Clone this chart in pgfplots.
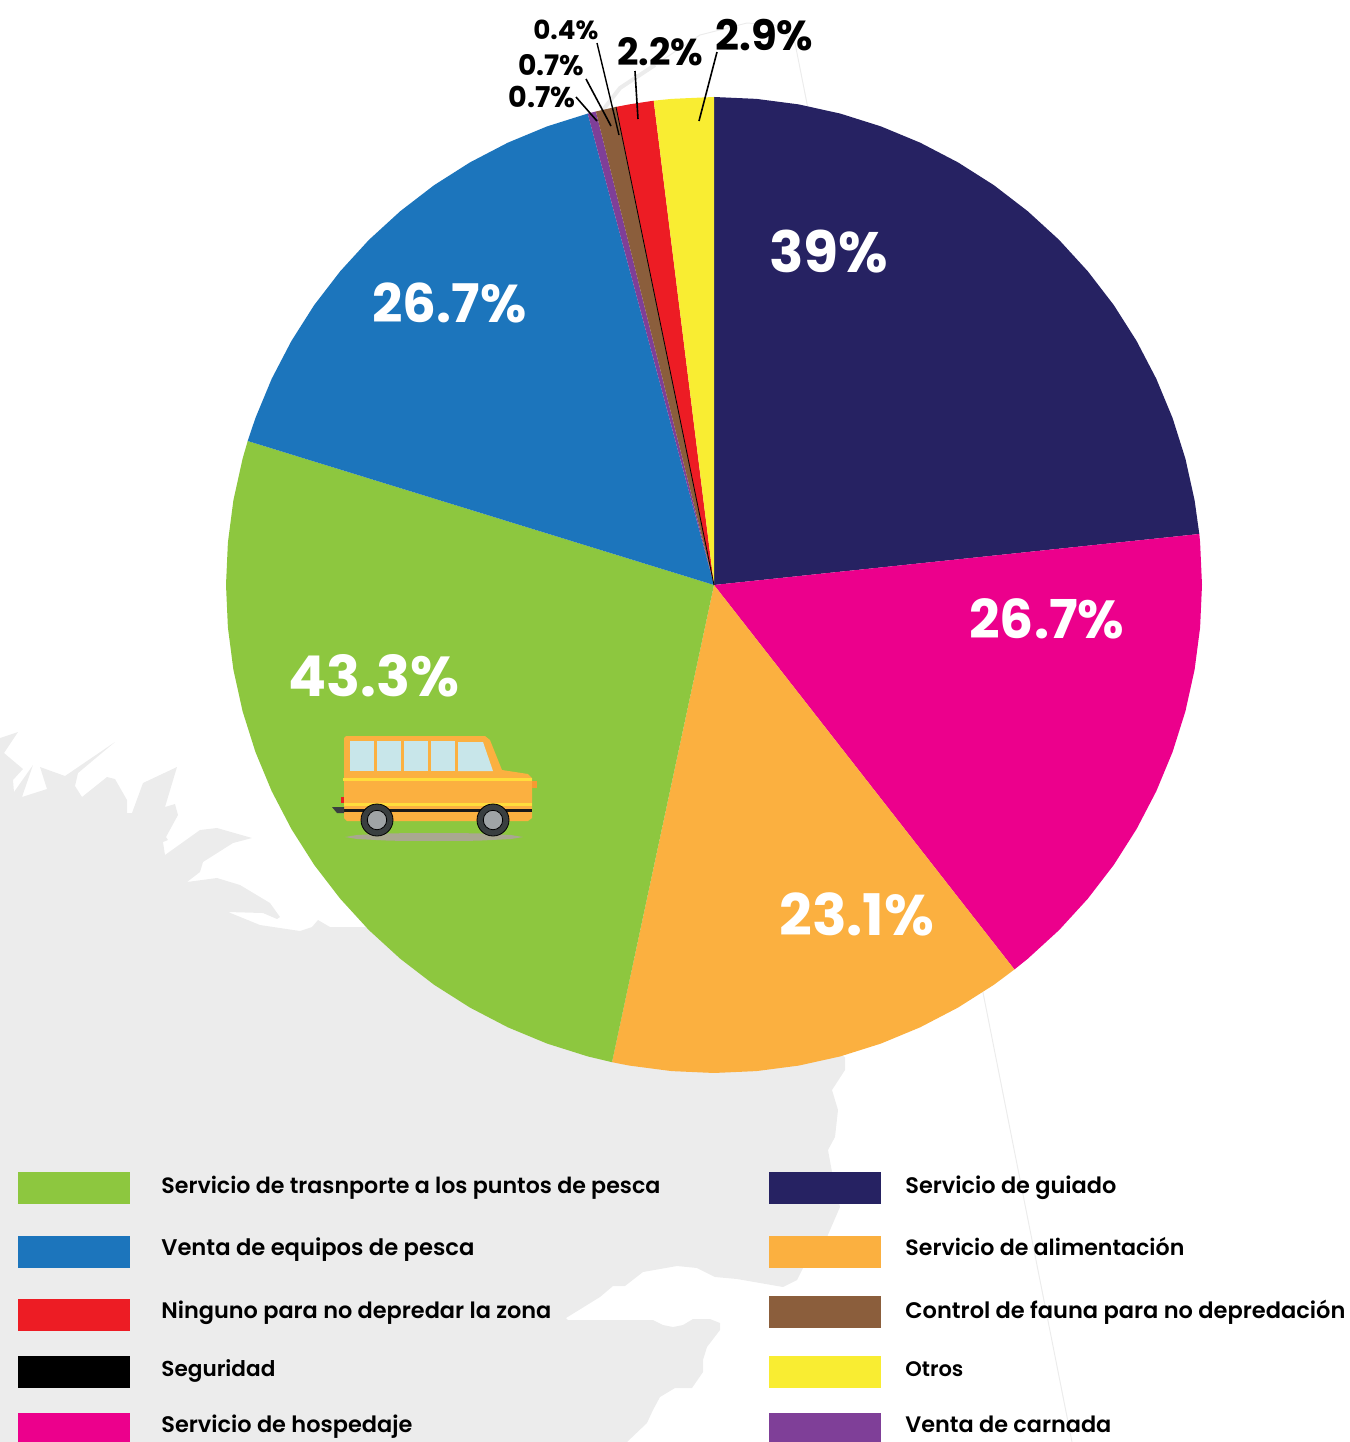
\documentclass[border=0pt]{standalone}
\usepackage{graphicx}
\usepackage{fontspec}
\usepackage{pgfplots}
\pgfplotsset{compat=1.18}
\setmainfont{Poppins}
\newfontfamily\lgfont{Poppins SemiBold}
\definecolor{cgreen}{HTML}{8DC73F}
\definecolor{cblue}{HTML}{1C75BC}
\definecolor{cnavy}{HTML}{262262}
\definecolor{cmag}{HTML}{EC008C}
\definecolor{corange}{HTML}{FBB040}
\definecolor{cred}{HTML}{ED1C24}
\definecolor{cbrown}{HTML}{8B5E3C}
\definecolor{cyellow}{HTML}{F9ED32}
\definecolor{cpurple}{HTML}{7F3F98}
\definecolor{bgland}{HTML}{ECECEC}
\definecolor{busglass}{HTML}{C8E6EA}
\definecolor{busstripe}{HTML}{FFDD3C}
\definecolor{busdark}{HTML}{3A3F40}
\definecolor{busshadow}{HTML}{A9A890}
\definecolor{bushub}{HTML}{A0A4A6}
\definecolor{busnub}{HTML}{F79A32}
\newcommand{\lab}[5]{\node[anchor=base west,inner sep=0pt,text=#5] at (axis cs:#1,#2) {\resizebox{\dimexpr #3pt/2\relax}{!}{\bfseries #4}};}
\newcommand{\lgd}[4]{\node[anchor=base west,inner sep=0pt,text=black] at (axis cs:#1,#2) {\resizebox{\dimexpr #3pt/2\relax}{!}{\lgfont #4}};}
\pgfplotsset{page/.style={scale only axis,width=675pt,height=721pt,hide axis,clip=false,xmin=0,xmax=1350,ymin=0,ymax=1442,y dir=reverse,at={(0,0)},anchor=south west}}
\begin{document}
\begin{tikzpicture}
\path[use as bounding box] (0,0) rectangle (675pt,721pt);
% background map, in page pixels
\begin{axis}[page]
\addplot[fill=bgland,draw=none] coordinates {
(0,738)(18,732)(4,753)(23,769)(13,780)(14,792)(33,765)(22,797)(47,789)(40,767)(65,776)(115,742)(78,773)(75,786)(82,797)(107,777)(115,779)(127,800)(127,813)(132,813)(143,783)(177,767)(165,807)(175,804)(178,815)(166,837)(168,840)(163,842)(165,855)(200,830)(217,828)(252,838)(233,843)(203,862)(200,872)(187,882)(217,878)(240,885)(270,903)(280,917)(277,919)(263,913)(228,912)(260,925)(300,931)(312,927)(318,920)(330,927)(367,927)(500,900)(845,1057)(845,1070)(832,1090)(838,1110)(835,1137)(828,1150)(832,1172)(840,1207)(827,1237)(803,1268)(797,1280)(783,1287)(760,1283)(737,1279)(715,1277)(697,1268)(677,1266)(643,1272)(625,1286)(613,1286)(600,1297)(566,1318)(568,1320)(600,1320)(653,1320)(663,1325)(673,1327)(683,1325)(693,1319)(710,1319)(720,1323)(720,1330)(707,1347)(703,1360)(703,1372)(692,1388)(675,1388)(660,1397)(653,1410)(647,1423)(627,1442)(0,1442)
} --cycle;
\addplot[bgland,line width=0.5pt] coordinates {(795,43)(1072,1442)};
\addplot[bgland,line width=2pt] coordinates {(603,110)(620,88)(655,65)};
\addplot[bgland,line width=0.5pt] coordinates {(655,65)(700,35)(747,23)(775,25)(795,43)};
\end{axis}
% pie, relative to its centre
\begin{axis}[scale only axis,width=675pt,height=721pt,hide axis,clip=false,xmin=-714,xmax=636,ymin=-857,ymax=585,at={(0,0)},anchor=south west]
\addplot[fill=cnavy,draw=none] coordinates {(0,0)(0,488)(42.5,486.1)(84.7,480.6)(126.3,471.4)(166.9,458.6)(206.2,442.3)(244,422.6)(279.9,399.8)(313.7,373.8)(345.1,345.1)(373.8,313.7)(399.8,279.9)(422.6,244)(442.3,206.2)(458.6,166.9)(471.4,126.3)(480.6,84.7)(485.3,51)} --cycle;
\addplot[fill=cmag,draw=none] coordinates {(0,0)(485.3,51)(486.1,42.5)(488,0)(486.1,-42.5)(480.6,-84.7)(471.4,-126.3)(458.6,-166.9)(442.3,-206.2)(422.6,-244)(399.8,-279.9)(373.8,-313.7)(345.1,-345.1)(313.7,-373.8)(300.4,-384.5)} --cycle;
\addplot[fill=corange,draw=none] coordinates {(0,0)(300.4,-384.5)(279.9,-399.8)(244,-422.6)(206.2,-442.3)(166.9,-458.6)(126.3,-471.4)(84.7,-480.6)(42.5,-486.1)(0,-488)(-42.5,-486.1)(-84.7,-480.6)(-102,-477.2)} --cycle;
\addplot[fill=cgreen,draw=none] coordinates {(0,0)(-102,-477.2)(-126.3,-471.4)(-166.9,-458.6)(-206.2,-442.3)(-244,-422.6)(-279.9,-399.8)(-313.7,-373.8)(-345.1,-345.1)(-373.8,-313.7)(-399.8,-279.9)(-422.6,-244)(-442.3,-206.2)(-458.6,-166.9)(-471.4,-126.3)(-480.6,-84.7)(-486.1,-42.5)(-488,0)(-486.1,42.5)(-480.6,84.7)(-471.4,126.3)(-466.3,144)} --cycle;
\addplot[fill=cblue,draw=none] coordinates {(0,0)(-466.3,144)(-458.6,166.9)(-442.3,206.2)(-422.6,244)(-399.8,279.9)(-373.8,313.7)(-345.1,345.1)(-313.7,373.8)(-279.9,399.8)(-244,422.6)(-206.2,442.3)(-166.9,458.6)(-126.3,471.4)} --cycle;
\addplot[fill=cpurple,draw=none] coordinates {(0,0)(-126.3,471.4)(-118.1,473.5)} --cycle;
\addplot[fill=cbrown,draw=none] coordinates {(0,0)(-118.1,473.5)(-98,478.1)} --cycle;
\addplot[fill=cred,draw=none] coordinates {(0,0)(-98,478.1)(-84.7,480.6)(-60.3,484.3)} --cycle;
\addplot[fill=cyellow,draw=none] coordinates {(0,0)(-60.3,484.3)(-42.5,486.1)(0,488)} --cycle;
\addplot[black,line width=0.4pt] coordinates {(0,0)(-98,478.1)};
\end{axis}
% bus, leaders, labels, legend, in page pixels
\begin{axis}[page]
\addplot[fill=corange,draw=none] coordinates {(344,738)(346,736)(485,736)(490,740)(502,770)(528,774)(532,778)(532,818)(528,821)(347,821)(344,818)} --cycle;
\addplot[fill=busglass,draw=none] coordinates {(350,741)(374,741)(374,771)(350,771)} --cycle;
\addplot[fill=busglass,draw=none] coordinates {(377,741)(401,741)(401,771)(377,771)} --cycle;
\addplot[fill=busglass,draw=none] coordinates {(404,741)(428,741)(428,771)(404,771)} --cycle;
\addplot[fill=busglass,draw=none] coordinates {(431,741)(455,741)(455,771)(431,771)} --cycle;
\addplot[fill=busglass,draw=none] coordinates {(458,742)(483,742)(493,771)(458,771)} --cycle;
\addplot[fill=busstripe,draw=none] coordinates {(343,778)(532,778)(532,781)(343,781)} --cycle;
\addplot[fill=busstripe,draw=none] coordinates {(344,803)(532,803)(532,806)(344,806)} --cycle;
\addplot[fill=black!90,draw=none] coordinates {(344,809)(532,809)(532,812)(344,812)} --cycle;
\addplot[fill=busdark,draw=none] coordinates {(332,807)(344,807)(344,813)(337,813)} --cycle;
\addplot[fill=cred,draw=none] coordinates {(341,797)(344,797)(344,803)(341,803)} --cycle;
\addplot[fill=busnub,draw=none] coordinates {(532,781)(537,781)(537,788)(532,788)} --cycle;
\addplot[only marks,mark=*,mark size=8pt,mark options={fill=busdark,draw=none}] coordinates {(377,820)(493,820)};
\addplot[only marks,mark=*,mark size=4.85pt,mark options={fill=bushub,draw=none}] coordinates {(377,820)(493,820)};
\addplot[fill=cgreen,draw=none] coordinates {(350,833)(520,833)(520,845)(350,845)} --cycle;
\addplot[fill=busshadow,draw=none] coordinates {(345,837)(357,835)(390,833.3)(434,833)(478,833.3)(511,835)(523,837)(511,839)(478,840.7)(434,841)(390,840.7)(357,839)} --cycle;
% leaders
\addplot[black,line width=0.8pt] coordinates {(717,52)(699,121)};
\addplot[black,line width=0.8pt] coordinates {(635,71)(638,119)};
\addplot[black,line width=0.8pt] coordinates {(586,79)(611,126)};
\addplot[black,line width=0.8pt] coordinates {(576,97)(597,121)};
\addplot[black,line width=0.7pt] coordinates {(597,43)(619,135)};
% percentages
\lab{769}{272}{119}{39\%}{white}
\lab{372}{322}{154}{26.7\%}{white}
\lab{969}{638}{155}{26.7\%}{white}
\lab{288}{696}{171}{43.3\%}{white}
\lab{779}{935}{155}{23.1\%}{white}
\lab{715}{50}{98}{2.9\%}{black}
\lab{617}{65}{86}{2.2\%}{black}
\lab{533}{39}{65}{0.4\%}{black}
\lab{518}{75}{66}{0.7\%}{black}
\lab{508}{107}{67}{0.7\%}{black}
% legend swatches
\addplot[fill=cgreen,draw=none] coordinates {(18,1172)(130,1172)(130,1204)(18,1204)} --cycle;
\addplot[fill=cblue,draw=none] coordinates {(18,1236)(130,1236)(130,1268)(18,1268)} --cycle;
\addplot[fill=cred,draw=none] coordinates {(18,1299)(130,1299)(130,1331)(18,1331)} --cycle;
\addplot[fill=black,draw=none] coordinates {(18,1356)(130,1356)(130,1388)(18,1388)} --cycle;
\addplot[fill=cmag,draw=none] coordinates {(18,1413)(130,1413)(130,1442)(18,1442)} --cycle;
\addplot[fill=cnavy,draw=none] coordinates {(769,1172)(881,1172)(881,1204)(769,1204)} --cycle;
\addplot[fill=corange,draw=none] coordinates {(769,1236)(881,1236)(881,1268)(769,1268)} --cycle;
\addplot[fill=cbrown,draw=none] coordinates {(769,1296)(881,1296)(881,1328)(769,1328)} --cycle;
\addplot[fill=cyellow,draw=none] coordinates {(769,1356)(881,1356)(881,1388)(769,1388)} --cycle;
\addplot[fill=cpurple,draw=none] coordinates {(769,1413)(881,1413)(881,1442)(769,1442)} --cycle;
% legend text
\lgd{161}{1193}{499}{Servicio de trasnporte a los puntos de pesca}
\lgd{161}{1255}{313}{Venta de equipos de pesca}
\lgd{161}{1318}{390}{Ninguno para no depredar la zona}
\lgd{161}{1376}{114}{Seguridad}
\lgd{161}{1432}{251}{Servicio de hospedaje}
\lgd{905}{1193}{211}{Servicio de guiado}
\lgd{905}{1255}{279}{Servicio de alimentación}
\lgd{905}{1318}{440}{Control de fauna para no depredación}
\lgd{905}{1376}{58}{Otros}
\lgd{905}{1432}{206}{Venta de carnada}
\end{axis}
\end{tikzpicture}
\end{document}
